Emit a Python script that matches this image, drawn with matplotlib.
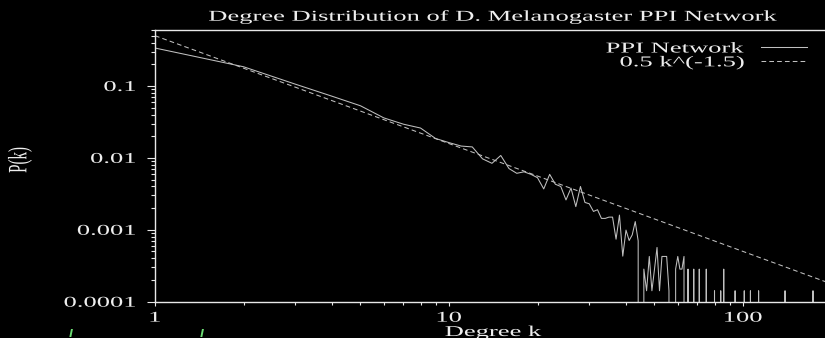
import numpy as np
import matplotlib
matplotlib.use("Agg")
import matplotlib.pyplot as plt
from matplotlib.patheffects import AbstractPathEffect
from matplotlib.transforms import Affine2D
from matplotlib.ticker import LogLocator, NullFormatter

# ---------------- data ----------------
degree_k = [1, 2, 3, 4, 5, 6, 7, 8, 9, 10,
            11, 12, 13, 14, 15, 16, 17, 18, 19, 20,
            21, 22, 23, 24, 25, 26, 27, 28, 29, 30,
            31, 32, 33, 34, 35, 36, 37, 38, 39, 40,
            41, 42, 43, 44, 45, 46, 47, 48, 49, 50,
            51, 52, 53, 54, 55, 56, 57, 58, 59, 60,
            61, 62, 63, 64, 65, 66, 67, 68, 69, 70,
            71, 72, 74, 75, 76, 79, 80, 81, 83, 84,
            85, 86, 87, 93, 94, 95, 100, 101, 102, 105,
            106, 107, 112, 113, 114, 138, 139, 140, 172, 173,
            174, 200]
p_k = [0.337, 0.185, 0.106, 0.072, 0.053, 0.036, 0.0294, 0.026, 0.0186, 0.0163,
       0.0146, 0.0142, 0.0097, 0.0084, 0.0108, 0.0071, 0.0061, 0.0064, 0.0059, 0.0053,
       0.0037, 0.0059, 0.0043, 0.0040, 0.0026, 0.0038, 0.0021, 0.0040, 0.0024, 0.0023,
       0.0018, 0.0019, 0.00144, 0.00144, 0.0015, 0.0015, 0.00074, 0.0016, 0.00043, 0.00099,
       0.00071, 0.00085, 0.0013, 0.0007, 0.0, 0.000284, 0.000142, 0.000426, 0.000142, 0.000284,
       0.000568, 0.000142, 0.000426, 0.000426, 0.000426, 0.000142, 0.0, 0.0, 0.000284, 0.000426,
       0.000284, 0.000284, 0.000426, 0.0, 0.000284, 0.0, 0.0, 0.000284, 0.0, 0.0,
       0.000284, 0.0, 0.0, 0.000284, 0.0, 0.0, 0.000142, 0.0, 0.0, 0.000142,
       0.0, 0.000284, 0.0, 0.0, 0.000142, 0.0, 0.0, 0.000142, 0.0, 0.0,
       0.000142, 0.0, 0.0, 0.000142, 0.0, 0.0, 0.000142, 0.0, 0.0, 0.000142,
       0.0, 0.0]

fit_a = 0.5
fit_gamma = 1.5

series_labels = ["PPI Network", "0.5 k^(-1.5)"]
title_text = "Degree Distribution of D. Melanogaster PPI Network"
x_label = "Degree k"
y_label = "P(k)"
x_ticks = [1, 10, 100]
x_tick_labels = ["1", "10", "100"]
y_ticks = [0.0001, 0.001, 0.01, 0.1]
y_tick_labels = ["0.0001", "0.001", "0.01", "0.1"]


# ---------------- styling helpers ----------------
class StretchX(AbstractPathEffect):
    """Draw text widened horizontally (the reference glyphs are stretched)."""

    def __init__(self, sx=1.77, anchor="center"):
        super().__init__()
        self.sx = sx
        self.anchor = anchor

    def draw_path(self, renderer, gc, tpath, affine, rgbFace=None):
        ext = tpath.get_extents()
        pts = affine.transform([(ext.x0, ext.y0), (ext.x1, ext.y0),
                                (ext.x0, ext.y1), (ext.x1, ext.y1)])
        xmin, xmax = pts[:, 0].min(), pts[:, 0].max()
        if self.anchor == "right":
            cx = xmax
        elif self.anchor == "left":
            cx = xmin
        else:
            cx = 0.5 * (xmin + xmax)
        aff = affine + Affine2D().translate(-cx, 0).scale(self.sx, 1.0).translate(cx, 0)
        renderer.draw_path(gc, tpath, aff, rgbFace)


plt.rcParams["font.family"] = ["Liberation Serif", "DejaVu Serif"]
FS = 10.8
SX = 1.77
TXT = "#eeeeee"
LINE = "#c0c0c0"
AXC = "#e8e8e8"

W, H = 825, 338
fig = plt.figure(figsize=(W / 100, H / 100), dpi=100, facecolor="black")
ax_left, ax_right, ax_top, ax_bottom = 155, 831.5, 30, 301.7
ax = fig.add_axes([ax_left / W, (H - ax_bottom) / H,
                   (ax_right - ax_left) / W, (ax_bottom - ax_top) / H],
                  facecolor="black")

ax.set_xscale("log")
ax.set_yscale("log", nonpositive="clip")

ax.plot(degree_k, p_k, color=LINE, lw=0.75, label=series_labels[0])
k_fit = np.logspace(0, np.log10(200), 300)
ax.plot(k_fit, fit_a * k_fit ** (-fit_gamma), color=LINE, lw=0.75,
        linestyle=(0, (4.5, 3.0)), label=series_labels[1])

ax.set_xlim(1, 200)
ax.set_ylim(1e-4, 0.6)

ax.set_xticks(x_ticks, x_tick_labels)
ax.set_yticks(y_ticks, y_tick_labels)
ax.xaxis.set_minor_locator(LogLocator(base=10, subs=np.arange(2, 10)))
ax.yaxis.set_minor_locator(LogLocator(base=10, subs=np.arange(2, 10)))
ax.xaxis.set_minor_formatter(NullFormatter())
ax.yaxis.set_minor_formatter(NullFormatter())

ax.tick_params(axis="both", which="both", colors=AXC, labelcolor=TXT,
               labelsize=FS, width=0.8, direction="out")
ax.tick_params(axis="y", which="major", length=6, pad=7.7)
ax.tick_params(axis="y", which="minor", length=3)
ax.tick_params(axis="x", which="major", length=3, pad=4.2)
ax.tick_params(axis="x", which="minor", length=2)

for side in ("left", "bottom", "top"):
    ax.spines[side].set_color(AXC)
    ax.spines[side].set_linewidth(1.0)
ax.spines["right"].set_visible(False)

ax.set_title(title_text, color=TXT, fontsize=FS, pad=6.7)
ax.set_xlabel(x_label, color=TXT, fontsize=FS)
ax.xaxis.set_label_coords(0.5, (ax_bottom - 326) / (ax_bottom - ax_top))
ax.set_ylabel(y_label, color=TXT, fontsize=FS, va="center")
ax.yaxis.set_label_coords((20 - ax_left) / (ax_right - ax_left),
                          (ax_bottom - 160) / (ax_bottom - ax_top))

leg = ax.legend(loc="upper right", bbox_to_anchor=(807 / W, 1 - 42 / H),
                bbox_transform=fig.transFigure, markerfirst=False,
                frameon=False, fontsize=FS, handlelength=3.1,
                handletextpad=1.1, labelspacing=0.02, borderpad=0,
                borderaxespad=0, labelcolor=TXT)

# small green fragments at the bottom-left edge of the picture
for gx in (71, 202):
    fig.text(gx / W, 1 - 337 / H, "l", color="#6cdc74", fontsize=8,
             fontstyle="italic", fontweight="bold", family="DejaVu Sans",
             ha="center", va="baseline")

fig.canvas.draw()
for t in ax.get_yticklabels():
    t.set_path_effects([StretchX(SX, "right")])
for t in ax.get_xticklabels():
    t.set_path_effects([StretchX(SX, "center")])
for t in (ax.title, ax.xaxis.label, ax.yaxis.label):
    t.set_path_effects([StretchX(SX, "center")])
for t in leg.get_texts():
    t.set_path_effects([StretchX(SX, "right")])

fig.savefig("out.png", dpi=100, facecolor="black")
